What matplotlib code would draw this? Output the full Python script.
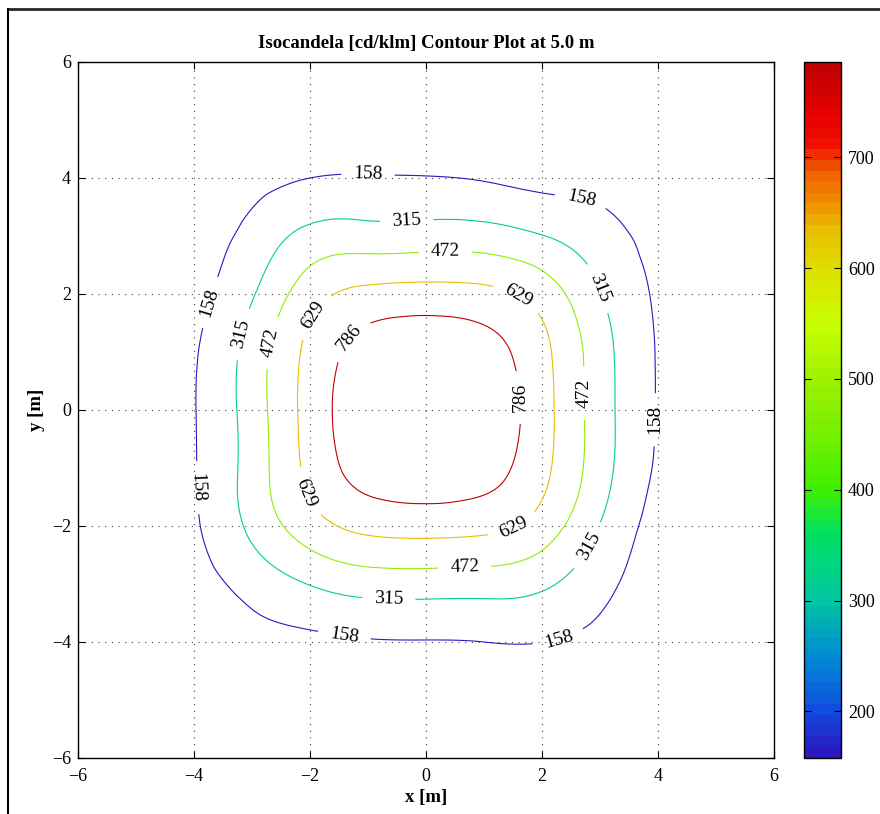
import numpy as np
import matplotlib
matplotlib.use('Agg')
import matplotlib.pyplot as plt
import matplotlib.tri as mtri
from matplotlib.colors import LinearSegmentedColormap, Normalize
from matplotlib.cm import ScalarMappable
from matplotlib.lines import Line2D

plt.rcParams['font.family'] = ['Liberation Serif', 'DejaVu Serif']

# grid positions [m]
x_m = [-6, -5, -4, -3, -2, -1, 0, 1, 2, 3, 4, 5, 6]
y_m = [6, 5, 4, 3, 2, 1, 0, -1, -2, -3, -4, -5, -6]

# isocandela values [cd/klm], rows follow y_m (top to bottom), cols follow x_m
cd = [
    [3, 5, 8, 11, 12, 12, 12, 12, 12, 11, 8, 5, 3],
    [5, 12, 24, 36, 43, 45, 45, 45, 43, 36, 24, 12, 5],
    [8, 24, 55, 108, 158, 168, 164, 148, 120, 106, 55, 24, 8],
    [11, 36, 92, 205, 362, 384, 390, 384, 320, 222, 106, 36, 11],
    [12, 43, 118, 300, 560, 672, 690, 672, 560, 324, 138, 43, 12],
    [12, 45, 145, 384, 672, 848, 895, 848, 672, 384, 149, 45, 12],
    [12, 45, 152, 390, 690, 888, 943, 895, 690, 390, 150, 45, 12],
    [12, 45, 150, 384, 672, 848, 888, 848, 672, 384, 140, 45, 12],
    [12, 43, 140, 351, 560, 672, 690, 672, 560, 310, 108, 43, 12],
    [11, 36, 100, 212, 321, 384, 390, 384, 342, 205, 85, 36, 11],
    [8, 24, 55, 106, 128, 148, 152, 158, 160, 115, 55, 24, 8],
    [5, 12, 24, 36, 43, 45, 45, 45, 43, 36, 24, 12, 5],
    [3, 5, 8, 11, 12, 12, 12, 12, 12, 11, 8, 5, 3],
]

levels = [158, 315, 472, 629, 786]
cbar_ticks = [200, 300, 400, 500, 600, 700]

# label spots (data coords)
label_pos = [(-1.0, 4.09), (2.67, 3.62), (-3.74, 1.86), (-4.0, -1.34),
             (-1.41, -3.9), (2.28, -3.93), (3.98, -0.17),
             (-0.34, 3.34), (3.03, 2.12), (-3.1, 1.29), (-0.64, -3.26), (2.79, -2.34),
             (0.34, 2.72), (-2.57, 1.14), (2.76, 0.29), (0.67, -2.78),
             (1.55, 1.9), (-1.88, 1.59), (-2.03, -1.41), (1.48, -1.97),
             (-1.22, 1.16), (1.55, 0.21)]

# colormap like the matlab one in the picture
cm_colors = [(0.0, '#2a18c0'), (0.067, '#1050e0'), (0.146, '#0090d0'),
             (0.226, '#00c8a0'), (0.322, '#00e060'), (0.385, '#40f000'),
             (0.457, '#70f000'), (0.545, '#a0f000'), (0.624, '#c8ff00'),
             (0.704, '#e0e000'), (0.76, '#e8c000'), (0.80, '#f09000'),
             (0.847, '#f06000'), (0.887, '#f01000'), (0.927, '#e80000'),
             (1.0, '#c00000')]
cmap = LinearSegmentedColormap.from_list('iso', cm_colors, N=64)
norm = Normalize(vmin=levels[0], vmax=levels[-1])

X, Y = np.meshgrid(x_m, y_m)
Z = np.array(cd, dtype=float)
tri = mtri.Triangulation(X.ravel(), Y.ravel())
refiner = mtri.UniformTriRefiner(tri)
tri_r, z_r = refiner.refine_field(Z.ravel(), subdiv=4)

fig = plt.figure(figsize=(8.8, 8.14), dpi=100)
ax = fig.add_axes([78/880, 56/814, 696/880, 696/814])
cs = ax.tricontour(tri_r, z_r, levels=levels, cmap=cmap, norm=norm, linewidths=0.8)
labels = ax.clabel(cs, fmt='%d', manual=label_pos, inline=True, inline_spacing=12,
                   fontsize=14, colors='k')
# vertical labels on the right read upwards like the original
for t in labels:
    x0, y0 = t.get_position()
    if x0 > 1 and abs(y0) < 1:
        t.set_rotation(90)

ax.set_xlim(-6, 6)
ax.set_ylim(-6, 6)
ax.set_xticks(range(-6, 7, 2))
ax.set_yticks(range(-6, 7, 2))
ax.grid(True, color='0.25', linestyle=(0, (1, 5)), linewidth=0.8)
ax.tick_params(direction='in', top=True, right=True, length=5, labelsize=13)
ax.tick_params(axis='x', pad=7)
ax.tick_params(axis='y', pad=5)
for s in ax.spines.values():
    s.set_linewidth(1.0)
ax.set_title('Isocandela [cd/klm] Contour Plot at 5.0 m', fontsize=13.5, fontweight='bold', pad=10)
ax.set_xlabel('x [m]', fontsize=13.5, fontweight='bold', labelpad=3)
ax.set_ylabel('y [m]', fontsize=13.5, fontweight='bold', labelpad=5)

cax = fig.add_axes([804/880, 56/814, 37/880, 696/814])
sm = ScalarMappable(norm=norm, cmap=cmap)
cb = fig.colorbar(sm, cax=cax, ticks=cbar_ticks)
cb.outline.set_linewidth(1.0)
cax.tick_params(direction='in', left=True, right=True, length=5, labelsize=13, pad=5)

# outer frame lines
fig.add_artist(Line2D([8/880, 1], [1 - 9/814, 1 - 9/814], color='0.15', linewidth=2))
fig.add_artist(Line2D([8/880, 8/880], [0, 1 - 9/814], color='k', linewidth=1.5))

fig.savefig('out.png', dpi=100)
